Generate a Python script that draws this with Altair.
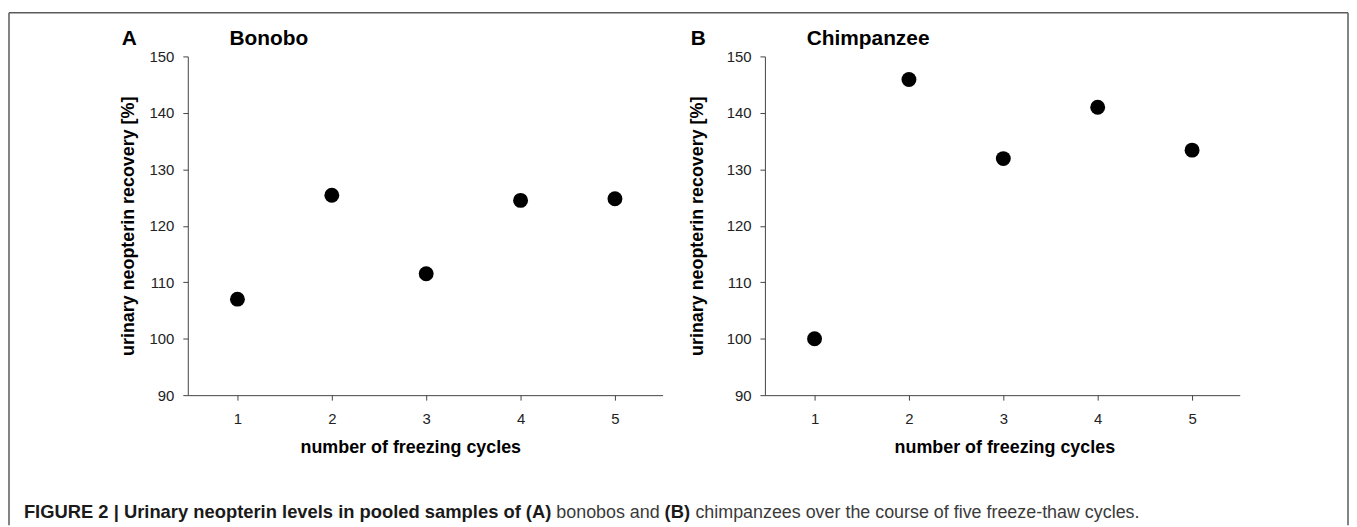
import altair as alt
import pandas as pd

# ---- data ----
cycles = [1, 2, 3, 4, 5]
bonobo = [107.0, 125.4, 111.5, 124.5, 124.8]
chimp = [100.0, 145.9, 131.9, 141.0, 133.4]
y_ticks = [90, 100, 110, 120, 130, 140, 150]
x_ticks = [1, 2, 3, 4, 5]
x_title = "number of freezing cycles"
y_title = "urinary neopterin recovery [%]"
panel_letters = ["A", "B"]
panel_titles = ["Bonobo", "Chimpanzee"]
caption_parts = [
    "FIGURE 2 | Urinary neopterin levels in pooled samples of (A)",
    "bonobos and",
    "(B)",
    "chimpanzees over the course of five freeze-thaw cycles.",
]

W, H = 478, 341
FONT = "Liberation Sans"


def one_text(txt):
    return alt.Chart(pd.DataFrame({"t": [txt]}))


def panel(values, letter, title, ytitle_x, xtitle_x, letter_x, extras=()):
    df = pd.DataFrame({"cycle": cycles, "value": values})
    pts = alt.Chart(df).mark_circle(size=225, color="black", opacity=1).encode(
        x=alt.X(
            "cycle:Q",
            scale=alt.Scale(domain=[0.474, 5.505], nice=False, zero=False),
            axis=alt.Axis(
                values=x_ticks, format="d", title=x_title,
                titleX=xtitle_x, titleY=53, titleAlign="center",
                titleBaseline="middle", labelPadding=12,
            ),
        ),
        y=alt.Y(
            "value:Q",
            scale=alt.Scale(domain=[90, 150], nice=False, zero=False),
            axis=alt.Axis(
                values=y_ticks, format="d", title=y_title,
                titleX=ytitle_x, titleY=H / 2, titleAngle=-90,
                titleAlign="center", titleBaseline="middle", labelPadding=9,
            ),
        ),
    )
    let = one_text(letter).mark_text(
        font=FONT, fontSize=21, fontWeight="bold", color="black",
        align="center", baseline="middle",
    ).encode(text="t:N", x=alt.value(letter_x), y=alt.value(-17))
    ttl = one_text(title).mark_text(
        font=FONT, fontSize=21, fontWeight="bold", color="black",
        align="left", baseline="middle",
    ).encode(text="t:N", x=alt.value(42), y=alt.value(-17))
    return alt.layer(pts, let, ttl, *extras).properties(width=W, height=H)


# frame around the figure (open at the bottom)
frame_col = "#5a5a5a"
frame_left = one_text("").mark_rule(color=frame_col, strokeWidth=1.5).encode(
    x=alt.value(-180), y=alt.value(-44), y2=alt.value(472))
frame_right = one_text("").mark_rule(color=frame_col, strokeWidth=1.5).encode(
    x=alt.value(1168), y=alt.value(-44), y2=alt.value(472))
frame_top = one_text("").mark_rule(color=frame_col, strokeWidth=1.5).encode(
    x=alt.value(-180), x2=alt.value(1168), y=alt.value(-44))

cap_y = 465
cap_x = [-165, 371, 480, 511]
cap_bold = [True, False, True, False]
cap_size = [18.5, 18, 18.5, 18]
caps = []
for txt, xx, b, fs in zip(caption_parts, cap_x, cap_bold, cap_size):
    caps.append(
        one_text(txt).mark_text(
            font=FONT, fontSize=fs, fontWeight="bold" if b else "normal",
            color="#1a1a1a" if b else "#3a3a3a", align="left", baseline="alphabetic",
        ).encode(text="t:N", x=alt.value(xx), y=alt.value(cap_y))
    )

pA = panel(bonobo, panel_letters[0], panel_titles[0], -60, 224, -59,
           extras=[frame_left, frame_right, frame_top] + caps)
pB = panel(chimp, panel_letters[1], panel_titles[1], -68, 241, -67)

chart = alt.hconcat(pA, pB, spacing=103, bounds="flush").properties(
    padding={"left": 0, "top": 2, "right": 0, "bottom": 0},
    background="white",
).configure_view(stroke=None).configure_axis(
    grid=False,
    domainColor="#444444",
    tickColor="#444444",
    domainWidth=1,
    tickWidth=1,
    tickSize=5,
    labelFont=FONT,
    labelFontSize=15,
    labelColor="#222222",
    titleFont=FONT,
    titleFontSize=18,
    titleFontWeight="bold",
    titleColor="black",
)

chart.save("out.html", embed_options={"renderer": "svg", "actions": False})
